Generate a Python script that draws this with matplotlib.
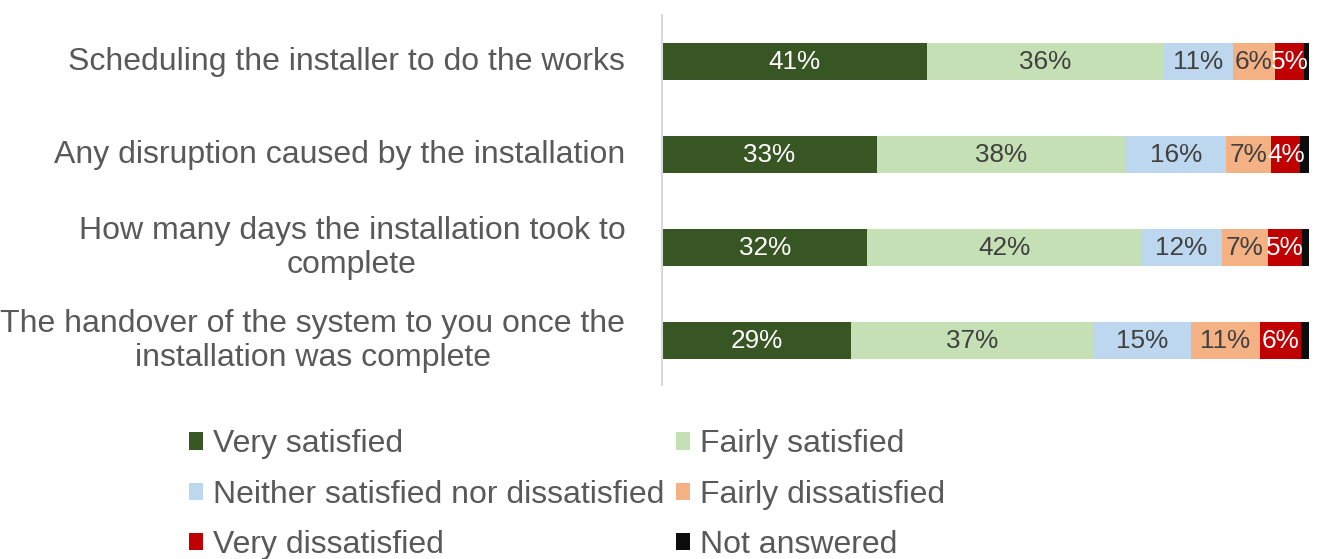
import matplotlib.pyplot as plt
from matplotlib.patches import Patch

plt.rcParams['font.family'] = ['Liberation Sans', 'DejaVu Sans']

# survey items, top to bottom
items = [
    "Scheduling the installer to do the works",
    "Any disruption caused by the installation",
    "How many days the installation took to\ncomplete",
    "The handover of the system to you once the\ninstallation was complete",
]

responses = ["Very satisfied", "Fairly satisfied",
             "Neither satisfied nor dissatisfied", "Fairly dissatisfied",
             "Very dissatisfied", "Not answered"]

# percentage of respondents per item
very_satisfied = [41.0, 33.2, 31.7, 29.2]
fairly_satisfied = [36.4, 38.4, 42.4, 37.4]
neither = [10.9, 15.6, 12.4, 15.1]
fairly_dissatisfied = [6.4, 7.0, 7.1, 10.7]
very_dissatisfied = [4.6, 4.4, 5.3, 6.3]
not_answered = [0.7, 1.4, 1.1, 1.3]

series = [very_satisfied, fairly_satisfied, neither,
          fairly_dissatisfied, very_dissatisfied, not_answered]
colors = ["#375623", "#c5e0b4", "#bdd7ee", "#f4b183", "#c00000", "#0d0d0d"]
label_colors = ["white", "#404040", "#404040", "#404040", "white", None]

fig = plt.figure(figsize=(13.19, 5.59), dpi=100)
ax = fig.add_axes([0.502, 0.311, 0.4904, 0.662])

y = range(len(items))
left = [0.0] * len(items)
for vals, col, tcol in zip(series, colors, label_colors):
    bars = ax.barh(y, vals, left=left, height=0.4, color=col)
    if tcol is not None:
        for b, v in zip(bars, vals):
            ax.text(b.get_x() + b.get_width() / 2, b.get_y() + b.get_height() / 2,
                    f"{v:.0f}%", ha='center', va='center', color=tcol, fontsize=18.8)
    left = [l + v for l, v in zip(left, vals)]

ax.set_xlim(0, 100)
ax.set_ylim(3.478, -0.5)
ax.set_xticks([])
ax.set_yticks([])
for s in ['top', 'right', 'bottom']:
    ax.spines[s].set_visible(False)
ax.spines['left'].set_color('#d9d9d9')
ax.spines['left'].set_linewidth(1.5)

for i, name in enumerate(items):
    ax.text(-0.057, i, name, transform=ax.get_yaxis_transform(),
            ha='right', va='center', multialignment='center',
            fontsize=23, color='#595959', linespacing=1.18)

# legend laid out column-first, so reorder to read row by row
order = [0, 2, 4, 1, 3, 5]
handles = [Patch(facecolor=colors[k], label=responses[k]) for k in order]
fig.legend(handles=handles, ncol=2, loc='upper left', bbox_to_anchor=(0.143, 0.232),
           frameon=False, fontsize=23, labelcolor='#595959',
           handlelength=0.45, handleheight=0.45, handletextpad=0.3,
           columnspacing=0.37, labelspacing=0.64, borderpad=0, borderaxespad=0)

fig.savefig('out.png', dpi=100)
